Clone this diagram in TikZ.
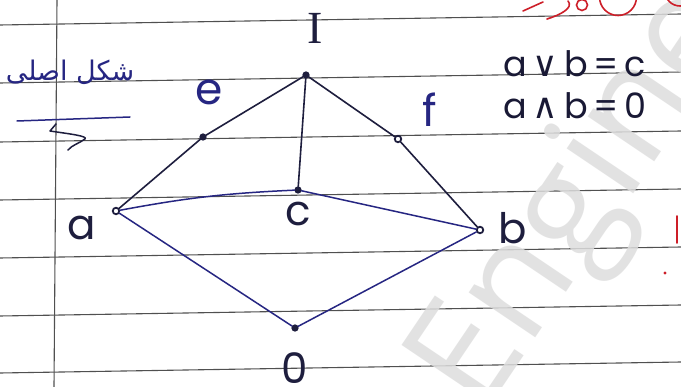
\documentclass[tikz,border=0pt]{standalone}
\usepackage{fontspec}
\setmainfont{Poppins}
\newfontfamily\symfont{DejaVu Sans}
\newfontfamily\wmfont{Open Sans}
\newfontfamily\seriffont{Liberation Serif}
\newfontfamily\arabicfont[Script=Arabic]{DejaVu Sans}
\TeXXeTstate=1
\definecolor{ink}{RGB}{30,30,62}
\definecolor{inkblue}{RGB}{38,38,130}
\definecolor{paperline}{RGB}{80,80,80}
\definecolor{wm}{RGB}{222,222,222}
\definecolor{redink}{RGB}{205,30,40}
\tikzset{
  ruled/.style={paperline, line width=1.1pt},
  edge/.style={ink, line width=1.6pt, line cap=round},
  edgeb/.style={inkblue, line width=1.5pt, line cap=round},
  vdot/.style={circle, draw=ink, fill=ink, line width=1.2pt, inner sep=0pt, minimum size=6pt},
  odot/.style={circle, draw=ink, fill=white, line width=1.8pt, inner sep=0pt, minimum size=6.5pt},
  lbl/.style={text=ink, font=\fontsize{42}{48}\selectfont, inner sep=0pt},
  blbl/.style={text=inkblue, font=\fontsize{44}{50}\selectfont, inner sep=0pt},
  eqn/.style={text=ink!85!black, font=\fontsize{35}{40}\selectfont, inner sep=0pt, anchor=west},
  redstroke/.style={redink, line width=1.6pt, line cap=round},
}
\begin{document}
\begin{tikzpicture}[x=1pt,y=-1pt]
\useasboundingbox (0,0) rectangle (681,387);
\fill[white] (0,0) rectangle (681,387);
\begin{scope}
\clip (0,0) rectangle (681,387);
% ruled paper
\foreach \yy in {25,83,142,200,258,316,373}
  \draw[ruled] (0,\yy) -- (681,\yy-11);
\draw[ruled] (57,0) -- (54,387);
% watermark
\node[text=wm, opacity=0.85, font=\wmfont\fontsize{150}{160}\selectfont, rotate=56, anchor=base west, inner sep=0pt] (wmark) at (482,418) {Engineer};
% red handwriting (cut off at the top right)
\draw[redstroke] (523,11) -- (543,2);
\draw[redstroke] (547,19) .. controls (560,15) and (574,8) .. (568,1);
\draw[redstroke] (582,5) circle (5.5);
\draw[redstroke] (618,-3) circle (18.5);
\draw[redstroke] (680,-9) circle (15);
\draw[redstroke] (677,216) -- (677,243);
\fill[redink] (665,273) circle (1.6);
\end{scope}
% Persian caption
\node[text=inkblue, font=\arabicfont\fontsize{27}{32}\selectfont, inner sep=0pt] (cap) at (70,72) {\beginR شکل اصلی\endR};
\coordinate (u1) at (17,121);
\coordinate (u2) at (130,117);
\draw[inkblue, line width=1.5pt, line cap=round] (u1) -- (u2);
\coordinate (z1) at (56,124);
\coordinate (z2) at (50,131);
\coordinate (z3) at (85,139);
\coordinate (z4) at (68,150);
\draw[ink, line width=1.5pt, line cap=round, line join=round] (z1) -- (z2) .. controls (70,134) and (88,136) .. (z3) .. controls (80,143) and (72,145) .. (z4);
% lattice vertices
\node[vdot] (I) at (306,75) {};
\node[vdot] (e) at (203,137) {};
\node[odot] (f) at (398,139) {};
\node[vdot] (c) at (298,190) {};
\node[odot] (a) at (116,211) {};
\node[odot] (b) at (480,230) {};
\node[vdot] (z) at (295,328) {};
% edges
\draw[edge] (I) -- (e);
\draw[edge] (e) -- (a);
\draw[edge] (I) -- (f);
\draw[edge] (f) -- (b);
\draw[edge] (I) -- (c);
\draw[edgeb] (a) to[bend left=4] (c);
\draw[edgeb] (c) -- (b);
\draw[edgeb] (a) -- (z);
\draw[edgeb] (b) -- (z);
% labels
\node[lbl, font=\seriffont\fontsize{46}{50}\selectfont] (lI) at (315,28) {I};
\node[blbl] (le) at (209,92) {e};
\node[blbl] (lf) at (430,110) {f};
\node[lbl] (lc) at (298,214) {c};
\node[lbl] (la) at (82,228) {a};
\node[lbl] (lb) at (513,228) {b};
\node[lbl] (lz) at (295,368) {0};
% equations
\node[eqn] (eq1) at (503,64) {a\,{\symfont ∨}\,b\,=\,c};
\node[eqn] (eq2) at (503,106) {a\,{\symfont ∧}\,b\,=\,0};
\end{tikzpicture}
\end{document}
